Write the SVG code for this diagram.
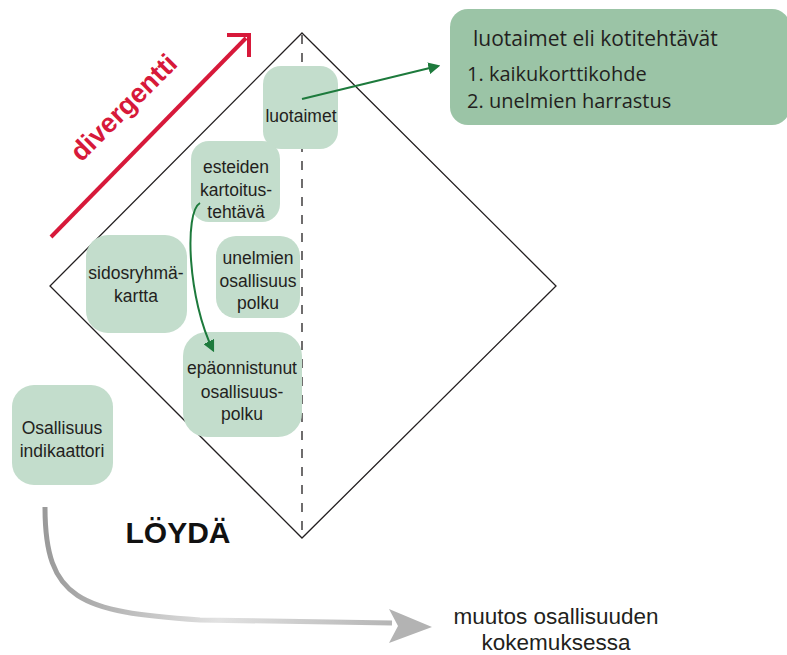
<svg xmlns="http://www.w3.org/2000/svg" width="787" height="655" viewBox="0 0 787 655">
<defs>
<style>
.node{fill:#c3ddcc;}
.t{font-family:"Liberation Sans",Arial,sans-serif;font-size:17.5px;fill:#231f20;text-anchor:middle;}
.big{font-family:"Open Sans","Liberation Sans",sans-serif;fill:#231f20;}
</style>
<marker id="ga" viewBox="0 0 10 10" refX="8" refY="5" markerWidth="6" markerHeight="6" orient="auto" markerUnits="strokeWidth">
<path d="M0,0 L10,5 L0,10 Z" fill="#1d7a3c"/>
</marker>
<linearGradient id="grey" x1="0" y1="0" x2="1" y2="0">
<stop offset="0" stop-color="#9a9a9a"/>
<stop offset="0.5" stop-color="#e2e2e2"/>
<stop offset="1" stop-color="#b5b5b5"/>
</linearGradient>
</defs>
<rect width="787" height="655" fill="#fff"/>
<g id="diamond">
<polygon points="302,33 556,286 302,538 50,286" fill="none" stroke="#231f20" stroke-width="1.3"/>
<line x1="302" y1="35" x2="302" y2="536" stroke="#231f20" stroke-width="1.3" stroke-dasharray="9,9"/>
</g>
<g id="node-luotaimet"><rect class="node" x="263" y="66" width="75" height="83" rx="18"/><text class="t" x="301" y="122">luotaimet</text></g>
<g id="node-esteiden"><rect class="node" x="191" y="141" width="89" height="81" rx="18"/><text class="t" x="236" y="173">esteiden</text><text class="t" x="236" y="196">kartoitus-</text><text class="t" x="236" y="218">tehtävä</text></g>
<g id="node-sidosryhma"><rect class="node" x="86" y="235" width="101" height="98" rx="22"/><text class="t" x="136" y="279">sidosryhmä-</text><text class="t" x="136" y="302">kartta</text></g>
<g id="node-unelmien"><rect class="node" x="216" y="236" width="84" height="82" rx="20"/><text class="t" x="258" y="264">unelmien</text><text class="t" x="258" y="287">osallisuus</text><text class="t" x="258" y="309">polku</text></g>
<g id="node-epaonnistunut"><rect class="node" x="183" y="332" width="119" height="105" rx="24"/><text class="t" x="242" y="374">epäonnistunut</text><text class="t" x="242" y="398">osallisuus-</text><text class="t" x="242" y="420">polku</text></g>
<g id="node-indikaattori"><rect class="node" x="12" y="385" width="101" height="100" rx="22"/><text class="t" x="62" y="434">Osallisuus</text><text class="t" x="62" y="457">indikaattori</text></g>
<g id="node-kotitehtavat"><rect x="450" y="9" width="340" height="116" rx="18" fill="#9bc4a6"/>
<text class="big" x="473" y="46" font-size="21">luotaimet eli kotitehtävät</text>
<text class="big" x="467" y="81" font-size="20">1. kaikukorttikohde</text>
<text class="big" x="467" y="108" font-size="20">2. unelmien harrastus</text></g>
<g id="connectors">
<path d="M302,99 L438,66" fill="none" stroke="#1d7a3c" stroke-width="2" marker-end="url(#ga)"/>
<path d="M200,203 C184,212 188,300 213,350" fill="none" stroke="#1d7a3c" stroke-width="2" marker-end="url(#ga)"/>
<line x1="51" y1="237" x2="246" y2="38" stroke="#d7193a" stroke-width="4"/>
<polyline points="227,35 249,35 249,57" fill="none" stroke="#d7193a" stroke-width="4"/>
<path d="M45,507 C45,600 80,612 200,620 L392,623" fill="none" stroke="url(#grey)" stroke-width="5"/>
<polygon points="389,609 432,627 389,643 398,626" fill="#b3b3b3"/>
</g>
<g id="labels">
<text x="0" y="0" font-family="'Liberation Sans',Arial,sans-serif" font-weight="bold" font-size="27" fill="#d7193a" text-anchor="middle" transform="translate(130,114) rotate(-45)">divergentti</text>
<text x="178" y="543" font-family="'Liberation Sans',Arial,sans-serif" font-weight="bold" font-size="30" fill="#111" text-anchor="middle">LÖYDÄ</text>
<text class="t" x="556" y="624" style="font-size:22.5px">muutos osallisuuden</text>
<text class="t" x="556" y="650" style="font-size:22.5px">kokemuksessa</text>
</g>
</svg>
